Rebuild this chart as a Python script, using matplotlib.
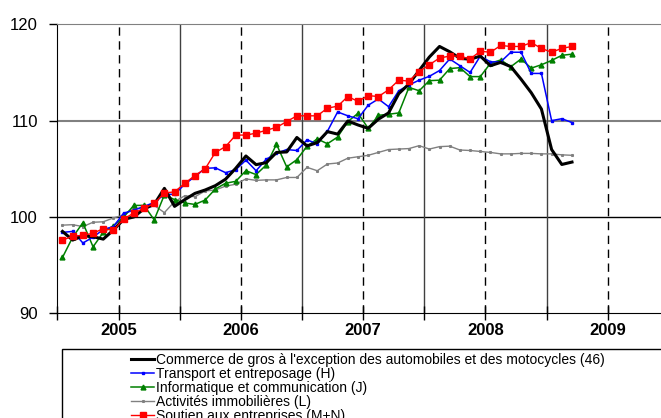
import numpy as np
import matplotlib
matplotlib.use("Agg")
import matplotlib.pyplot as plt
from matplotlib.patches import Rectangle

plt.rcParams['font.family'] = ['Liberation Sans', 'DejaVu Sans']

# monthly index values, Jan 2005 .. Mar 2009
commerce = [98.5, 97.6, 98.05, 97.95, 97.7, 98.65, 99.75, 100.0, 100.85, 101.3,
            102.97, 101.1, 101.8, 102.45, 102.8, 103.25, 103.92, 105.05, 106.33, 105.43,
            105.64, 106.7, 106.75, 108.25, 107.37, 107.72, 108.86, 108.6, 109.96, 109.55,
            109.2, 110.15, 110.8, 112.8, 113.8, 115.2, 116.6, 117.7, 117.15, 116.47,
            116.37, 116.7, 115.7, 116.05, 115.6, 114.3, 112.9, 111.2, 107.0, 105.45, 105.7]
transport = [98.4, 98.5, 97.3, 97.9, 98.7, 99.0, 100.4, 100.7, 101.1, 101.5,
             102.35, 102.35, 103.4, 104.2, 105.05, 105.1, 104.6, 104.9, 105.9, 104.8,
             106.0, 106.6, 107.0, 106.9, 108.0, 107.6, 108.9, 110.9, 110.5, 110.2,
             111.6, 112.25, 111.45, 113.1, 113.7, 114.2, 114.6, 115.2, 116.4, 115.7,
             115.0, 116.7, 116.1, 116.1, 117.1, 117.1, 114.9, 114.9, 110.0, 110.2, 109.8]
informatique = [95.8, 97.9, 99.4, 96.9, 98.4, 99.1, 100.0, 101.2, 101.2, 99.7,
                102.3, 101.8, 101.45, 101.3, 101.76, 102.9, 103.5, 103.7, 104.8, 104.4,
                105.4, 107.55, 105.2, 105.95, 107.35, 108.1, 107.6, 108.3, 109.9, 110.76,
                109.2, 110.55, 110.66, 110.8, 113.45, 113.1, 114.15, 114.2, 115.4, 115.5,
                114.57, 114.57, 115.95, 116.3, 115.6, 116.4, 115.45, 115.8, 116.25, 116.78, 116.9]
immobilier = [99.15, 99.2, 99.0, 99.45, 99.5, 99.9, 100.2, 100.85, 100.9, 101.2,
              100.45, 101.6, 102.2, 102.1, 102.7, 102.8, 103.2, 103.4, 103.95, 103.8,
              103.85, 103.85, 104.1, 104.1, 105.15, 104.8, 105.5, 105.6, 106.1, 106.25,
              106.4, 106.7, 107.0, 107.05, 107.1, 107.4, 107.05, 107.3, 107.35, 106.95,
              106.9, 106.8, 106.7, 106.55, 106.55, 106.6, 106.6, 106.55, 106.55, 106.45, 106.4]
soutien = [97.6, 98.0, 98.1, 98.3, 98.8, 98.6, 99.8, 100.4, 100.9, 101.4,
           102.5, 102.6, 103.5, 104.3, 105.0, 106.7, 107.3, 108.5, 108.5, 108.7,
           109.0, 109.3, 109.9, 110.5, 110.5, 110.5, 111.3, 111.5, 112.5, 112.0,
           112.6, 112.5, 113.2, 114.2, 114.1, 115.1, 115.8, 116.5, 116.7, 116.7,
           116.4, 117.2, 117.1, 117.8, 117.7, 117.7, 118.1, 117.5, 117.1, 117.5, 117.7]

labels = ["Commerce de gros à l'exception des automobiles et des motocycles (46)",
          "Transport et entreposage (H)",
          "Informatique et communication (J)",
          "Activités immobilières (L)",
          "Soutien aux entreprises (M+N)"]
years = ['2005', '2006', '2007', '2008', '2009']

W, H = 661, 418
fig = plt.figure(figsize=(W / 100, H / 100), dpi=100)
# axes: left 57.4px, top 24.3px, bottom 313.3px, 60 months wide (runs past the right edge)
ax = fig.add_axes([57.4 / W, 1 - 313.3 / H, 611.4 / W, 289.0 / H])

x = np.arange(len(commerce)) + 0.5

# background grid
ax.axhline(110, color='#808080', lw=1.5, zorder=1)
ax.axhline(100, color='black', lw=1.0, zorder=1)
for m in [12, 24, 36, 48]:
    ax.axvline(m, color='#404040', lw=1.0, zorder=1)
for m in [6, 18, 30, 42, 54]:
    ax.axvline(m, color='black', lw=1.0, ls=(0, (6, 4)), zorder=1)

h1, = ax.plot(x, commerce, color='black', lw=2.2, zorder=5)
h2, = ax.plot(x, transport, color='#0000FF', lw=1.1, marker='s', ms=2, zorder=4)
h3, = ax.plot(x, informatique, color='#008000', lw=1.1, marker='^', ms=3.5, zorder=3)
h4, = ax.plot(x, immobilier, color='#808080', lw=1.0, marker='s', ms=1.2, zorder=2)
h5, = ax.plot(x, soutien, color='#FF0000', lw=1.0, marker='s', ms=4.2, zorder=6)

ax.set_xlim(0, 60)
ax.set_ylim(90, 120)
ax.set_yticks([90, 100, 110, 120])
ax.tick_params(axis='y', length=6, width=1, labelsize=12, pad=8)
ax.set_xticks(np.arange(0, 61, 6))
ax.set_xticklabels([])
ax.tick_params(axis='x', direction='inout', length=10, width=1)
for i, y in enumerate(years):
    ax.text(6 + 12 * i, 89.0, y, ha='center', va='top', fontsize=12, fontweight='bold')

ax.spines['top'].set_color('#808080')
ax.spines['right'].set_visible(False)

# legend with a box that runs off the bottom/right of the image
fig.patches.append(Rectangle((62 / W, -0.05), 612 / W, 1.05 - 349 / H,
                             transform=fig.transFigure, fill=False, lw=1.0,
                             edgecolor='black', figure=fig))
fig.legend([h1, h2, h3, h4, h5], labels, loc='upper center',
           bbox_to_anchor=(368 / W, 1 - 343 / H), frameon=False,
           fontsize=10, labelspacing=0.0, handlelength=1.7, handletextpad=0.15,
           borderpad=0.2)

fig.savefig('out.png', dpi=100)
